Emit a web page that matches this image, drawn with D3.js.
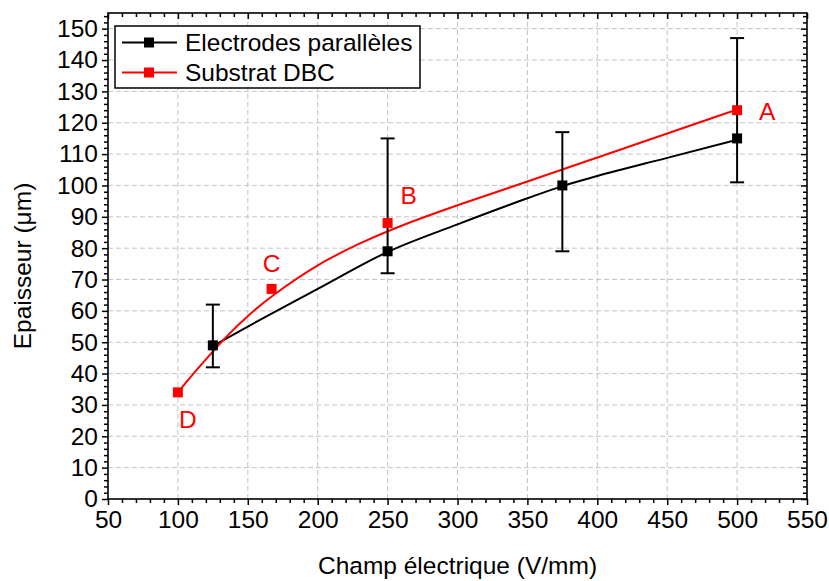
<!DOCTYPE html>
<html><head><meta charset="utf-8">
<script src="https://cdn.jsdelivr.net/npm/d3@7"></script>
<style>body{margin:0;background:#fff}svg{display:block;font-family:Arial,"Liberation Sans",sans-serif}</style>
</head><body><svg id="c" width="829" height="581"></svg>
<script>
// ---- data ----
const xTicks = [50,100,150,200,250,300,350,400,450,500,550];
const yTicks = [0,10,20,30,40,50,60,70,80,90,100,110,120,130,140,150];
const seriesNames = ["Electrodes parallèles","Substrat DBC"];
const seriesColors = ["#000000","#ff0000"];
// Electrodes parallèles (mean + error bars)
const elecX = [125,250,375,500];
const elecY = [49,79,100,115];
const elecLow = [42,72,79,101];
const elecHigh = [62,115,117,147];
// Substrat DBC
const dbcX = [100,167,250,500];
const dbcY = [34,67,88,124];
const dbcLabels = ["D","C","B","A"];
// fitted trend curves
const elecFitX = [125,150,200,250,300,350,375,400,450,500];
const elecFitY = [48.8,55.0,67.0,78.8,87.6,95.9,99.8,103.0,108.8,114.6];
const dbcFitX = [100,110,125,135,150,167,200,230,250,300,350,400,450,500];
const dbcFitY = [34,39.5,47,52,58.5,64.8,75,81.5,85.6,93.8,101.2,108.9,116.6,124.2];

(function(){
const svg = d3.select("#c");
const L=108,R=807,T=13,B=499;
const x = d3.scaleLinear().domain([50,550]).range([L,R]);
const y = d3.scaleLinear().domain([0,155]).range([B,T]);

// grid
const grid = svg.append("g").attr("stroke","#c4c4c4").attr("stroke-width",1).attr("stroke-dasharray","5,3");
xTicks.filter(v=>v>50&&v<550).forEach(v=>grid.append("line").attr("x1",x(v)).attr("x2",x(v)).attr("y1",B).attr("y2",T));
yTicks.filter(v=>v>0).forEach(v=>grid.append("line").attr("x1",L).attr("x2",R).attr("y1",y(v)).attr("y2",y(v)));

// axes
const font = 24.5;
const xMinor = d3.range(50,551,10), yMinor = d3.range(0,155,2);
const gB = svg.append("g").attr("transform",`translate(0,${B})`)
  .call(d3.axisBottom(x).tickValues(xTicks).tickSize(6).tickPadding(6).tickFormat(d3.format("d")));
const gBm = svg.append("g").attr("transform",`translate(0,${B})`)
  .call(d3.axisBottom(x).tickValues(xMinor.filter(v=>!xTicks.includes(v))).tickSize(4).tickFormat(""));
const gL = svg.append("g").attr("transform",`translate(${L},0)`)
  .call(d3.axisLeft(y).tickValues(yTicks).tickSize(6).tickPadding(4).tickFormat(d3.format("d")));
const gLm = svg.append("g").attr("transform",`translate(${L},0)`)
  .call(d3.axisLeft(y).tickValues(yMinor.filter(v=>!yTicks.includes(v))).tickSize(4).tickFormat(""));
const gT = svg.append("g").attr("transform",`translate(0,${T})`)
  .call(d3.axisBottom(x).tickValues(xTicks).tickSize(6).tickFormat(""));
const gTm = svg.append("g").attr("transform",`translate(0,${T})`)
  .call(d3.axisBottom(x).tickValues(xMinor.filter(v=>!xTicks.includes(v))).tickSize(4).tickFormat(""));
const gR = svg.append("g").attr("transform",`translate(${R},0)`)
  .call(d3.axisLeft(y).tickValues(yTicks).tickSize(6).tickFormat(""));
const gRm = svg.append("g").attr("transform",`translate(${R},0)`)
  .call(d3.axisLeft(y).tickValues(yMinor.filter(v=>!yTicks.includes(v))).tickSize(4).tickFormat(""));
[gB,gBm,gL,gLm,gT,gTm,gR,gRm].forEach(g=>{
  g.select(".domain").remove();
  g.selectAll(".tick line").attr("stroke","#000").attr("stroke-width",1.5);
  g.selectAll("text").attr("font-size",font).attr("font-family","Arial, 'Liberation Sans', sans-serif").attr("fill","#000");
});
svg.append("rect").attr("x",L).attr("y",T).attr("width",R-L).attr("height",B-T)
  .attr("fill","none").attr("stroke","#000").attr("stroke-width",1.6);

// titles
svg.append("text").attr("x",(L+R)/2).attr("y",574).attr("text-anchor","middle")
  .attr("font-size",font).text("Champ électrique (V/mm)");
svg.append("text").attr("transform",`translate(31,${(T+B)/2+10}) rotate(-90)`).attr("text-anchor","middle")
  .attr("font-size",font).text("Epaisseur (μm)");

// curves
const line = d3.line().x(d=>x(d[0])).y(d=>y(d[1])).curve(d3.curveMonotoneX);
const smooth = d3.line().x(d=>x(d[0])).y(d=>y(d[1])).curve(d3.curveBasis);
svg.append("path").attr("d",line(elecFitX.map((v,i)=>[v,elecFitY[i]])))
  .attr("fill","none").attr("stroke",seriesColors[0]).attr("stroke-width",2);
svg.append("path").attr("d",smooth(dbcFitX.map((v,i)=>[v,dbcFitY[i]])))
  .attr("fill","none").attr("stroke",seriesColors[1]).attr("stroke-width",2);

// error bars
const eb = svg.append("g").attr("stroke","#000").attr("stroke-width",2);
elecX.forEach((v,i)=>{
  eb.append("line").attr("x1",x(v)).attr("x2",x(v)).attr("y1",y(elecLow[i])).attr("y2",y(elecHigh[i]));
  [elecLow[i],elecHigh[i]].forEach(e=>eb.append("line").attr("x1",x(v)-7).attr("x2",x(v)+7).attr("y1",y(e)).attr("y2",y(e)));
});

// markers
const ms = 10;
svg.append("g").selectAll("rect").data(elecX.map((v,i)=>[v,elecY[i]])).join("rect")
  .attr("x",d=>x(d[0])-ms/2).attr("y",d=>y(d[1])-ms/2).attr("width",ms).attr("height",ms).attr("fill",seriesColors[0]);
svg.append("g").selectAll("rect").data(dbcX.map((v,i)=>[v,dbcY[i]])).join("rect")
  .attr("x",d=>x(d[0])-ms/2).attr("y",d=>y(d[1])-ms/2).attr("width",ms).attr("height",ms).attr("fill",seriesColors[1]);

// point labels
const labOff = {A:[30,10],B:[21,-19],C:[0,-17],D:[10,36]};
dbcX.forEach((v,i)=>{
  const o = labOff[dbcLabels[i]];
  svg.append("text").attr("x",x(v)+o[0]).attr("y",y(dbcY[i])+o[1]).attr("text-anchor","middle")
    .attr("font-size",font).attr("fill","#ff0000").text(dbcLabels[i]);
});

// legend
const lg = svg.append("g");
lg.append("rect").attr("x",115).attr("y",26).attr("width",305).attr("height",62)
  .attr("fill","#fff").attr("stroke","#000").attr("stroke-width",1.5);
seriesNames.forEach((n,i)=>{
  const yy = 42.5 + i*30;
  lg.append("line").attr("x1",122).attr("x2",177).attr("y1",yy).attr("y2",yy).attr("stroke",seriesColors[i]).attr("stroke-width",2);
  lg.append("rect").attr("x",149-ms/2).attr("y",yy-ms/2).attr("width",ms).attr("height",ms).attr("fill",seriesColors[i]);
  lg.append("text").attr("x",185).attr("y",yy+8.5).attr("font-size",font).attr("fill","#000").text(n);
});
})();
</script></body></html>
